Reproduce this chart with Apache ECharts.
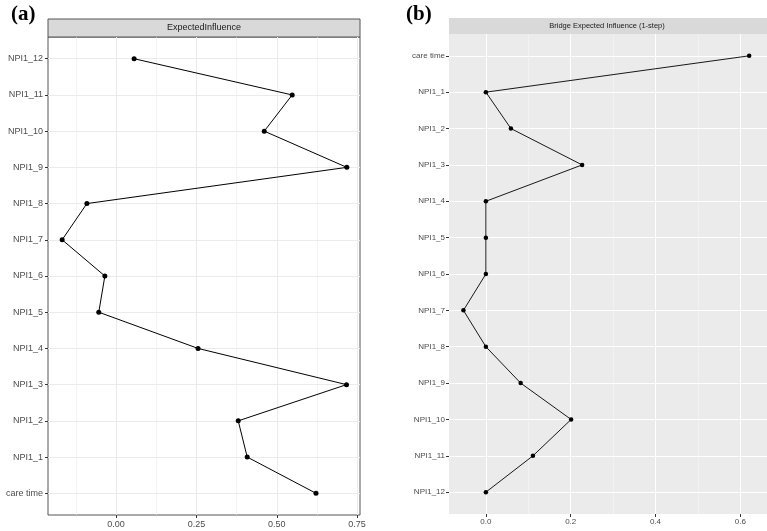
<!DOCTYPE html>
<html>
<head>
<meta charset="utf-8">
<script src="https://cdn.jsdelivr.net/npm/echarts@6/dist/echarts.min.js"></script>
<style>
  html, body { margin: 0; padding: 0; background: #fff; }
  #main { width: 767px; height: 531px; }
</style>
</head>
<body>
<div id="main"></div>
<script>
// nodes, bottom-to-top in panel (a), top-to-bottom in panel (b)
const nodes = ['care time', 'NPI1_1', 'NPI1_2', 'NPI1_3', 'NPI1_4', 'NPI1_5', 'NPI1_6',
  'NPI1_7', 'NPI1_8', 'NPI1_9', 'NPI1_10', 'NPI1_11', 'NPI1_12'];
const expectedInfluence = [0.622, 0.408, 0.380, 0.717, 0.255, -0.054, -0.035,
  -0.168, -0.091, 0.718, 0.461, 0.548, 0.056];
const bridgeEI = [0.621, 0.000, 0.059, 0.227, 0.000, 0.000, 0.000,
  -0.053, 0.000, 0.082, 0.201, 0.111, 0.000];
const ticksA = [0, 0.25, 0.5, 0.75];
const minorA = [-0.125, 0.125, 0.375, 0.625];
const ticksB = [0, 0.2, 0.4, 0.6];
const minorB = [0.1, 0.3, 0.5];
const nodeIdx = nodes.map((d, i) => i);

const labelFont = 'Liberation Sans, Arial, sans-serif';

const myChart = echarts.init(document.getElementById('main'), null, { renderer: 'canvas' });

const yAxisBase = (grid, size, inverse, margin) => ({
  type: 'value',
  gridIndex: grid,
  min: -0.6,
  max: nodes.length - 1 + 0.6,
  inverse: inverse,
  axisLine: { show: false, onZero: false },
  axisTick: { show: true, customValues: nodeIdx, length: 3, lineStyle: { color: '#333', width: 1 } },
  axisLabel: {
    customValues: nodeIdx,
    formatter: (v) => nodes[Math.round(v)],
    color: '#4D4D4D', fontSize: size, fontFamily: labelFont, margin: margin
  },
  splitLine: { show: true, lineStyle: { color: grid === 0 ? '#EBEBEB' : '#FFFFFF', width: 1 } }
});

const option = {
  animation: false,
  grid: [
    { left: 48, right: 407, top: 37, bottom: 16, show: true, backgroundColor: '#FFFFFF',
      borderColor: '#555555', borderWidth: 1 },
    { left: 449, right: 0, top: 34, bottom: 17, show: true, backgroundColor: '#EBEBEB',
      borderWidth: 0 }
  ],
  xAxis: [
    {
      type: 'value', gridIndex: 0, min: -0.212, max: 0.759, position: 'bottom',
      axisLine: { show: false, onZero: false },
      axisTick: { show: true, customValues: ticksA, length: 3, lineStyle: { color: '#333' } },
      axisLabel: { customValues: ticksA, formatter: (v) => v.toFixed(2), color: '#4D4D4D',
        fontSize: 9, fontFamily: labelFont, margin: 5 },
      splitLine: { show: true, lineStyle: { color: '#EBEBEB', width: 1 } }
    },
    {
      type: 'value', gridIndex: 0, min: -0.212, max: 0.759, position: 'bottom',
      axisLine: { show: false, onZero: false },
      axisTick: { show: false, customValues: minorA },
      axisLabel: { show: false, customValues: minorA },
      splitLine: { show: true, lineStyle: { color: '#EDEDED', width: 0.6 } }
    },
    {
      type: 'value', gridIndex: 1, min: -0.087, max: 0.663, position: 'bottom',
      axisLine: { show: false, onZero: false },
      axisTick: { show: true, customValues: ticksB, length: 3, lineStyle: { color: '#333' } },
      axisLabel: { customValues: ticksB, formatter: (v) => v.toFixed(1), color: '#4D4D4D',
        fontSize: 8, fontFamily: labelFont, margin: 4 },
      splitLine: { show: true, lineStyle: { color: '#FFFFFF', width: 1 } }
    },
    {
      type: 'value', gridIndex: 1, min: -0.087, max: 0.663, position: 'bottom',
      axisLine: { show: false, onZero: false },
      axisTick: { show: false, customValues: minorB },
      axisLabel: { show: false, customValues: minorB },
      splitLine: { show: true, lineStyle: { color: '#F7F7F7', width: 0.6 } }
    }
  ],
  yAxis: [
    yAxisBase(0, 9, false, 5),
    yAxisBase(1, 8, true, 4)
  ],
  graphic: [
    { type: 'rect', shape: { x: 48, y: 19, width: 312, height: 18 },
      style: { fill: '#D9D9D9', stroke: '#555555', lineWidth: 1 } },
    { type: 'text', x: 204, y: 28,
      style: { text: 'ExpectedInfluence', fill: '#1A1A1A', font: '9px ' + labelFont,
        textAlign: 'center', textVerticalAlign: 'middle' } },
    { type: 'rect', shape: { x: 449, y: 18, width: 318, height: 16 },
      style: { fill: '#D9D9D9' } },
    { type: 'text', x: 607, y: 26,
      style: { text: 'Bridge Expected Influence (1-step)', fill: '#1A1A1A', font: '7.5px ' + labelFont,
        textAlign: 'center', textVerticalAlign: 'middle' } },
    { type: 'text', x: 11, y: 15,
      style: { text: '(a)', fill: '#000', font: 'bold 21px Liberation Serif, Times New Roman, serif',
        textVerticalAlign: 'middle' } },
    { type: 'text', x: 406, y: 15,
      style: { text: '(b)', fill: '#000', font: 'bold 21px Liberation Serif, Times New Roman, serif',
        textVerticalAlign: 'middle' } }
  ],
  series: [
    {
      type: 'line', xAxisIndex: 0, yAxisIndex: 0,
      data: expectedInfluence.map((v, i) => [v, i]),
      symbol: 'circle', symbolSize: 5,
      itemStyle: { color: '#000' },
      lineStyle: { color: '#000', width: 1 }
    },
    {
      type: 'line', xAxisIndex: 2, yAxisIndex: 1,
      data: bridgeEI.map((v, i) => [v, i]),
      symbol: 'circle', symbolSize: 4.5,
      itemStyle: { color: '#000' },
      lineStyle: { color: '#000', width: 0.9 }
    }
  ]
};

myChart.setOption(option, true);
</script>
</body>
</html>
